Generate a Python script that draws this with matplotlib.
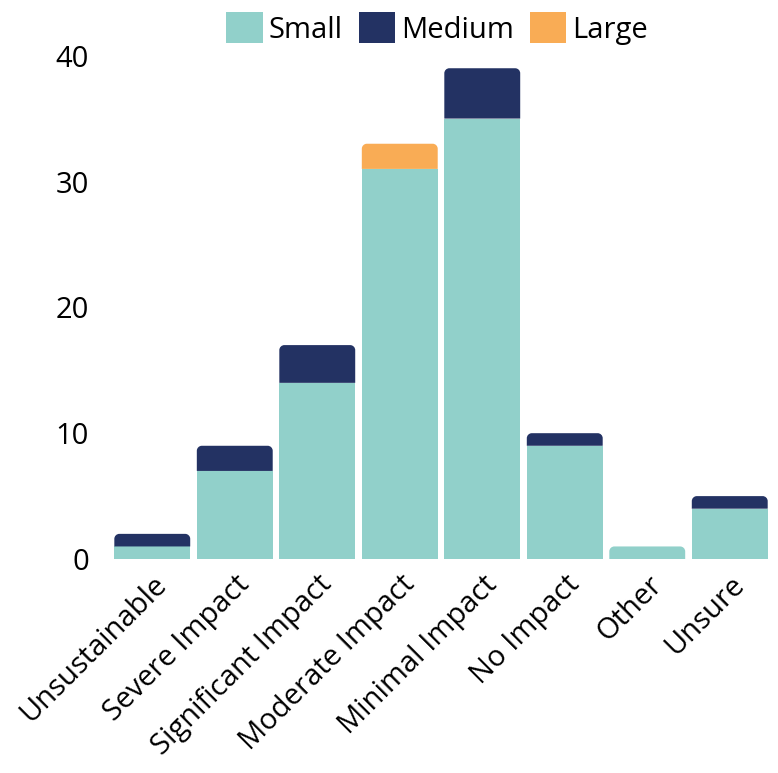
import numpy as np
import matplotlib
matplotlib.use("Agg")
import matplotlib.pyplot as plt
from matplotlib.patches import PathPatch, Patch
from matplotlib.path import Path

plt.rcParams['font.family'] = ['Open Sans', 'DejaVu Sans']

# --- data ---
categories = ["Unsustainable", "Severe Impact", "Significant Impact", "Moderate Impact",
              "Minimal Impact", "No Impact", "Other", "Unsure"]
small = [1, 7, 14, 31, 35, 9, 1, 4]
medium = [1, 2, 3, 0, 4, 1, 0, 1]
large = [0, 0, 0, 2, 0, 0, 0, 0]

series = [("Small", small, "#91D0CA"), ("Medium", medium, "#233263"), ("Large", large, "#F9AC55")]

fig = plt.figure(figsize=(7.78, 7.73), dpi=100)
ax = fig.add_axes([0.1427, 0.2768, 0.9910 - 0.1427, 0.928 - 0.2768])
ax.set_xlim(-0.5, len(categories) - 0.5)
ax.set_ylim(0, 40)

x = np.arange(len(categories))
width = 0.92

# size of one data unit in pixels, for the round corners
fig.canvas.draw()
p0 = ax.transData.transform((0, 0))
p1 = ax.transData.transform((1, 1))
r_px = 5.0
rx = r_px / (p1[0] - p0[0])
ry = r_px / (p1[1] - p0[1])
k = 0.5523


def top_rounded(x0, y0, w, h):
    x1, y1 = x0 + w, y0 + h
    verts = [(x0, y0), (x1, y0), (x1, y1 - ry),
             (x1, y1 - ry + k * ry), (x1 - rx + k * rx, y1), (x1 - rx, y1),
             (x0 + rx, y1),
             (x0 + rx - k * rx, y1), (x0, y1 - ry + k * ry), (x0, y1 - ry),
             (x0, y0)]
    codes = [Path.MOVETO, Path.LINETO, Path.LINETO,
             Path.CURVE4, Path.CURVE4, Path.CURVE4,
             Path.LINETO,
             Path.CURVE4, Path.CURVE4, Path.CURVE4,
             Path.CLOSEPOLY]
    return Path(verts, codes)


for i in range(len(categories)):
    bottom = 0
    segs = [(v[i], c) for _, v, c in series if v[i] > 0]
    for j, (val, col) in enumerate(segs):
        if j == len(segs) - 1:
            ax.add_patch(PathPatch(top_rounded(x[i] - width / 2, bottom, width, val),
                                   fc=col, ec="none", lw=0))
        else:
            ax.bar(x[i], val, width, bottom=bottom, color=col, linewidth=0)
        bottom += val

for s in ax.spines.values():
    s.set_visible(False)
ax.set_yticks([0, 10, 20, 30, 40])
ax.tick_params(axis='y', length=0, pad=16, labelsize=21)
ax.set_xticks(x)
ax.set_xticklabels(categories, rotation=45, ha='right', rotation_mode='anchor', fontsize=21)
ax.tick_params(axis='x', length=0, pad=8)

handles = [Patch(facecolor=c, edgecolor='none', label=n) for n, _, c in series]
fig.legend(handles=handles, loc='upper center', bbox_to_anchor=(0.562, 1.018), ncol=3,
           frameon=False, fontsize=21, handlelength=1.25, handleheight=1.25,
           handletextpad=0.2, columnspacing=0.55)

fig.savefig("out.png", dpi=100)
